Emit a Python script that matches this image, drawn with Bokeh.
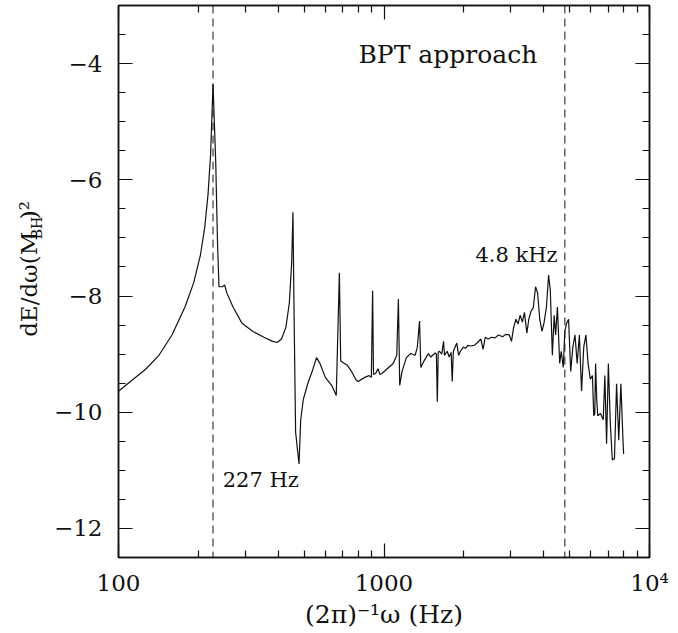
import math
from bokeh.plotting import figure
from bokeh.layouts import row
from bokeh.core.properties import value
from bokeh.models import (LogAxis, LinearAxis, FixedTicker,
                          Span, Label, Range1d, ColumnDataSource)
from bokeh.embed import file_html
from bokeh.resources import INLINE

# ---- data ----
freq_hz = [100, 113, 126.5, 142, 159, 178, 192, 203.6, 211.5, 217.4, 222.3, 227,
           232.4, 236, 239, 246, 251, 256, 270, 292, 321, 353, 381, 396, 411, 427,
           440, 449, 454, 459, 464.6, 471, 478.6, 485.6, 496.7, 516, 536, 557, 574,
           601, 636, 661, 679, 687, 727, 755, 784, 799, 846, 879, 896, 906, 913,
           931, 949, 966, 985, 1023, 1083, 1117, 1133, 1146, 1169, 1214, 1261, 1310,
           1335, 1361, 1376, 1414, 1469, 1500, 1525, 1560, 1575, 1588, 1600, 1615,
           1650, 1676, 1690, 1730, 1760, 1790, 1807, 1825, 1880, 1910, 1940, 1990,
           2030, 2067, 2120, 2188, 2250, 2317, 2361, 2406, 2470, 2547, 2620, 2697,
           2800, 2870, 2965, 3021, 3078, 3140, 3200, 3258, 3320, 3380, 3452, 3510,
           3581, 3650, 3723, 3790, 3861, 3937, 4010, 4091, 4168, 4230, 4307, 4375,
           4430, 4500, 4589, 4650, 4733, 4800, 4875, 4957, 5049, 5143, 5241, 5341,
           5443, 5547, 5653, 5761, 5871, 5983, 6097, 6166, 6220, 6266, 6330, 6385,
           6540, 6695, 6790, 6892, 6999, 7120, 7244, 7380, 7516, 7659, 7803, 7955,
           7990]
dE_dw_log = [-9.64, -9.44, -9.26, -9.02, -8.67, -8.19, -7.77, -7.29, -6.80, -6.25, -5.56, -4.35,
             -5.70, -7.08, -7.84, -7.84, -7.81, -7.95, -8.19, -8.47, -8.61, -8.71, -8.78, -8.80, -8.74, -8.54,
             -8.12, -7.43, -6.56, -8.50, -10.34, -10.60, -10.89, -10.13, -9.78, -9.51, -9.30, -9.06, -9.16,
             -9.40, -9.54, -9.71, -7.60, -9.12, -9.19, -9.30, -9.44, -9.47, -9.40, -9.37, -9.40, -7.91, -9.35,
             -9.33, -9.25, -9.35, -9.33, -9.26, -9.16, -9.02, -8.05, -9.54, -9.30, -9.06, -8.99, -9.02,
             -8.88, -8.43, -9.23, -9.12, -8.99, -9.05, -9.02, -8.98, -9.00, -9.82, -8.97, -8.95,
             -9.00, -8.78, -9.02, -8.95, -9.05, -8.97, -9.47, -8.95, -8.81, -9.02, -8.95, -8.88,
             -8.90, -8.85, -8.86, -8.85, -8.80, -8.74, -8.92, -8.71, -8.74, -8.71, -8.72, -8.67,
             -8.70, -8.66, -8.67, -8.78, -8.54, -8.40, -8.48, -8.33, -8.45, -8.28, -8.64, -8.40,
             -8.26, -8.20, -7.84, -7.95, -8.40, -8.61, -8.45, -8.19, -7.64, -7.90, -9.02, -8.33,
             -8.67, -8.19, -9.16, -8.95, -9.23, -8.60, -8.47, -8.40, -9.30, -8.88, -8.67, -9.16,
             -8.67, -9.64, -8.88, -8.67, -9.16, -9.43, -9.37, -10.06, -10.03, -9.16, -9.80, -10.06,
             -10.02, -10.13, -9.37, -10.54, -9.16, -10.20, -10.82, -10.80, -9.51, -10.48, -9.51, -10.54,
             -10.72]

marker_freqs = [227, 4800]
marker_labels = ["227 Hz", "4.8 kHz"]

x_ticks = [100, 1000, 10000]
x_tick_labels = ["100", "1000", "10\u2074"]
y_ticks = [-12, -10, -8, -6, -4]
y_tick_labels = ["\u221212", "\u221210", "\u22128", "\u22126", "\u22124"]

y_title_parts = ["dE/d\u03c9(M", "BH", ")\u00b2"]

FONT = "DejaVu Serif"
FS = "23px"
INK = "#111111"
TITLE_W = 50
H = 633

p = figure(width=678 - TITLE_W, height=H, x_axis_type="log",
           x_range=Range1d(100, 10000), y_range=Range1d(-12.5, -3),
           output_backend="svg", toolbar_location=None,
           min_border_left=117 - TITLE_W, min_border_right=29, min_border_top=5,
           min_border_bottom=76)
p.grid.visible = False
p.outline_line_color = INK
p.outline_line_width = 1.5
p.background_fill_color = "white"
p.border_fill_color = "white"

minor_x = [m * d for d in (100, 1000) for m in range(2, 10)]
xticker = FixedTicker(ticks=x_ticks, minor_ticks=minor_x)
yticker = FixedTicker(ticks=y_ticks, minor_ticks=[v / 2 for v in range(-25, -5)])


def style_axis(ax, ticks, labels, show_labels):
    ax.axis_line_color = INK
    ax.axis_line_width = 1.5
    ax.major_tick_line_color = INK
    ax.minor_tick_line_color = INK
    ax.major_tick_line_width = 1.2
    ax.minor_tick_line_width = 1.2
    ax.major_tick_out = 0
    ax.minor_tick_out = 0
    ax.major_tick_in = 14
    ax.minor_tick_in = 7
    ax.major_label_text_font = FONT
    ax.major_label_text_color = INK
    if show_labels:
        ax.major_label_overrides = {t: s for t, s in zip(ticks, labels)}
        ax.major_label_text_font_size = FS
    else:
        ax.major_label_overrides = {t: "" for t in ticks}
        ax.major_label_text_font_size = "6px"
        ax.major_label_standoff = 0


xb = p.xaxis[0]
xb.ticker = xticker
style_axis(xb, x_ticks, x_tick_labels, True)
xb.major_label_standoff = 12
xb.axis_label = "(2\u03c0)\u207b\u00b9\u03c9 (Hz)"
xb.axis_label_text_font = FONT
xb.axis_label_text_font_size = "25px"
xb.axis_label_text_font_style = "normal"
xb.axis_label_text_color = INK
xb.axis_label_standoff = 1

yl = p.yaxis[0]
yl.ticker = yticker
style_axis(yl, y_ticks, y_tick_labels, True)
yl.major_label_standoff = 16

xt = LogAxis(ticker=xticker)
style_axis(xt, x_ticks, x_tick_labels, False)
p.add_layout(xt, "above")
yr = LinearAxis(ticker=yticker)
style_axis(yr, y_ticks, y_tick_labels, False)
p.add_layout(yr, "right")

# curve
src = ColumnDataSource(dict(f=freq_hz, e=dE_dw_log))
p.line("f", "e", source=src, line_color=INK, line_width=1.2)

# dashed markers
for f in marker_freqs:
    p.add_layout(Span(location=f, dimension="height", line_color=INK,
                      line_width=1, line_dash="8 5"))

# annotations
p.add_layout(Label(x=1740, y=-3.85, text="BPT approach", text_align="center",
                   text_baseline="middle", text_font=FONT, text_font_size="25px",
                   text_color=INK))
p.add_layout(Label(x=4508, y=-7.30, text=marker_labels[1], text_align="right",
                   text_baseline="middle", text_font=FONT, text_font_size="21px",
                   text_color=INK))
p.add_layout(Label(x=247, y=-11.16, text=marker_labels[0], text_align="left",
                   text_baseline="middle", text_font=FONT, text_font_size="21px",
                   text_color=INK))

# ---- narrow panel carrying the rotated y title (with subscript) ----
t = figure(width=TITLE_W, height=H, x_range=Range1d(0, TITLE_W), y_range=Range1d(0, H),
           output_backend="svg", toolbar_location=None, min_border=0,
           x_axis_location=None, y_axis_location=None)
t.grid.visible = False
t.outline_line_color = None
t.background_fill_color = "white"
t.border_fill_color = "white"

y0 = 253
w1 = 112
w2 = 23
t.text(x=[28], y=[y0], text=[y_title_parts[0]], angle=math.pi / 2,
       text_align="left", text_baseline="middle", text_font=value(FONT),
       text_font_size=value("23px"), text_color=INK)
t.text(x=[36], y=[y0 + w1], text=[y_title_parts[1]], angle=math.pi / 2,
       text_align="left", text_baseline="middle", text_font=value(FONT),
       text_font_size=value("14px"), text_color=INK)
t.text(x=[28], y=[y0 + w1 + w2], text=[y_title_parts[2]], angle=math.pi / 2,
       text_align="left", text_baseline="middle", text_font=value(FONT),
       text_font_size=value("23px"), text_color=INK)

layout = row(t, p, spacing=0)
open("out.html", "w").write(file_html(layout, INLINE))
